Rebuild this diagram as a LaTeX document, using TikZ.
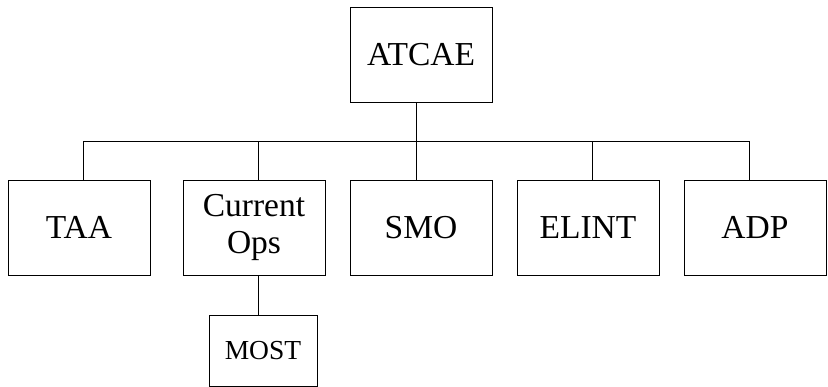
\documentclass[tikz,border=0pt]{standalone}
\usepackage{fontspec}
\setmainfont{Liberation Serif}
\begin{document}
\begin{tikzpicture}[x=1pt,y=1pt,
  box/.style={draw,line width=0.9pt,minimum width=142pt,minimum height=95pt,inner sep=0pt,align=center,font=\fontsize{33.5}{37}\selectfont},
  smallbox/.style={draw,line width=0.9pt,minimum width=108pt,minimum height=71pt,inner sep=0pt,align=center,font=\fontsize{27.5}{30}\selectfont},
  conn/.style={line width=0.9pt}]
\useasboundingbox (0,0) rectangle (828,386);
\node[box] (atcae) at (421,331.5) {ATCAE};
\node[box] (taa) at (79,158.5) {TAA};
\node[box] (cur) at (254,158.5) {Current\\Ops};
\node[box] (smo) at (421,158.5) {SMO};
\node[box] (elint) at (588,158.5) {ELINT};
\node[box] (adp) at (755,158.5) {ADP};
\node[smallbox] (most) at (263,35.5) {MOST};
% bus line
\coordinate (busL) at ([xshift=4pt]taa.north |- 0,245);
\coordinate (busR) at ([xshift=-6pt]adp.north |- 0,245);
\draw[conn] ([xshift=-5pt]atcae.south) -- ([xshift=-5pt]smo.north);
\draw[conn] ([xshift=4pt]taa.north) -- (busL) -- (busR) -- ([xshift=-6pt]adp.north);
\draw[conn] ([xshift=4pt]cur.north) -- ([xshift=4pt]cur.north |- busL);
\draw[conn] ([xshift=4pt]elint.north) -- ([xshift=4pt]elint.north |- busL);
\draw[conn] ([xshift=4pt]cur.south) -- ([xshift=-5pt]most.north);
% thicker stroke on TAA right edge
\draw[line width=1.8pt] ([yshift=-23pt]taa.north east) -- ([yshift=-65pt]taa.north east);
\end{tikzpicture}
\end{document}
